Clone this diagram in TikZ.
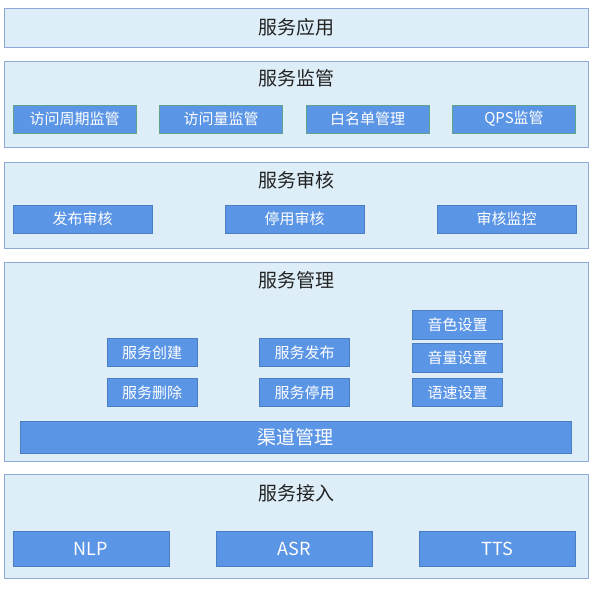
\documentclass[tikz,border=0pt]{standalone}
\usepackage{fontspec}
\setmainfont{Noto Sans CJK SC}
\usepackage{xcolor}
\usepackage{tikz}
\usetikzlibrary{positioning}
\definecolor{layerfill}{HTML}{DDEEF9}
\definecolor{layerline}{HTML}{8EAAD6}
\definecolor{moduleblue}{HTML}{5B95E5}
\definecolor{moduleline}{HTML}{4A7DC2}
\definecolor{watchline}{HTML}{5FA38A}
\definecolor{titlegray}{HTML}{222222}

\begin{document}
\begin{tikzpicture}[x=1pt ,y=-1pt ,on grid ,layer/.style ={draw=layerline , fill=layerfill , line width=0.8pt , minimum width=584pt , inner sep=0pt}, title/.style ={text=titlegray , font=\fontsize{19}{19}\selectfont}, module/.style ={draw=moduleline , fill=moduleblue , text=white , line width=0.8pt , inner sep=0pt , minimum height=28pt , font=\fontsize{15}{15}\selectfont}, watch/.style ={module , draw=watchline , minimum width=123pt}, audit/.style ={module , minimum width=139pt}, setbox/.style ={module , minimum width=90pt , minimum height=28.5pt}, inlet/.style ={module , minimum width=156pt , minimum height=35pt , font=\fontsize{18}{18}\selectfont}]
\useasboundingbox (0,0) rectangle (592,589);
\node[layer ,minimum height=39pt ,title] (app) at (296,27.5) {服务应用};
\node[layer ,minimum height=86pt] (monitor) at (296,104) {};
\node[layer ,minimum height=86pt] (review) at (296,205) {};
\node[layer ,minimum height=199pt] (manage) at (296,361.5) {};
\node[layer ,minimum height=104pt] (access) at (296,526) {};
\node[title] (monitorT) at (296,78) {服务监管};
\node[title] (reviewT) at (296,180) {服务审核};
\node[title] (manageT) at (296,280) {服务管理};
\node[title] (accessT) at (296,493) {服务接入};
\node[watch] (period) at (74.5,119) {访问周期监管};
\node[watch] (volume) [right=146.5pt of period] {访问量监管};
\node[watch] (white) [right=146.5pt of volume] {白名单管理};
\node[watch] (qps) [right=146.5pt of white] {QPS监管};
\node[audit] (publish) at (82.5,219) {发布审核};
\node[audit] (disable) [right=212pt of publish] {停用审核};
\node[audit] (audit) [right=212pt of disable] {审核监控};
\node[setbox] (create) at (152,352.5) {服务创建};
\node[setbox] (delete) [below=40pt of create] {服务删除};
\node[setbox] (release) [right=152.5pt of create] {服务发布};
\node[setbox] (stop) [below=40pt of release] {服务停用};
\node[setbox] (speed) [right=153pt of stop] {语速设置};
\node[setbox] (loud) [above=34.5pt of speed] {音量设置};
\node[setbox] (tone) [above=33pt of loud] {音色设置};
\node[module ,minimum width=551pt ,minimum height=32pt ,font=\fontsize{19}{19}\selectfont] (channel) at (295.5,437) {渠道管理};
\node[inlet] (nlp) at (91,548.5) {NLP};
\node[inlet] (asr) [right=203pt of nlp] {ASR};
\node[inlet] (tts) [right=203pt of asr] {TTS};
\end{tikzpicture}
\end{document}
